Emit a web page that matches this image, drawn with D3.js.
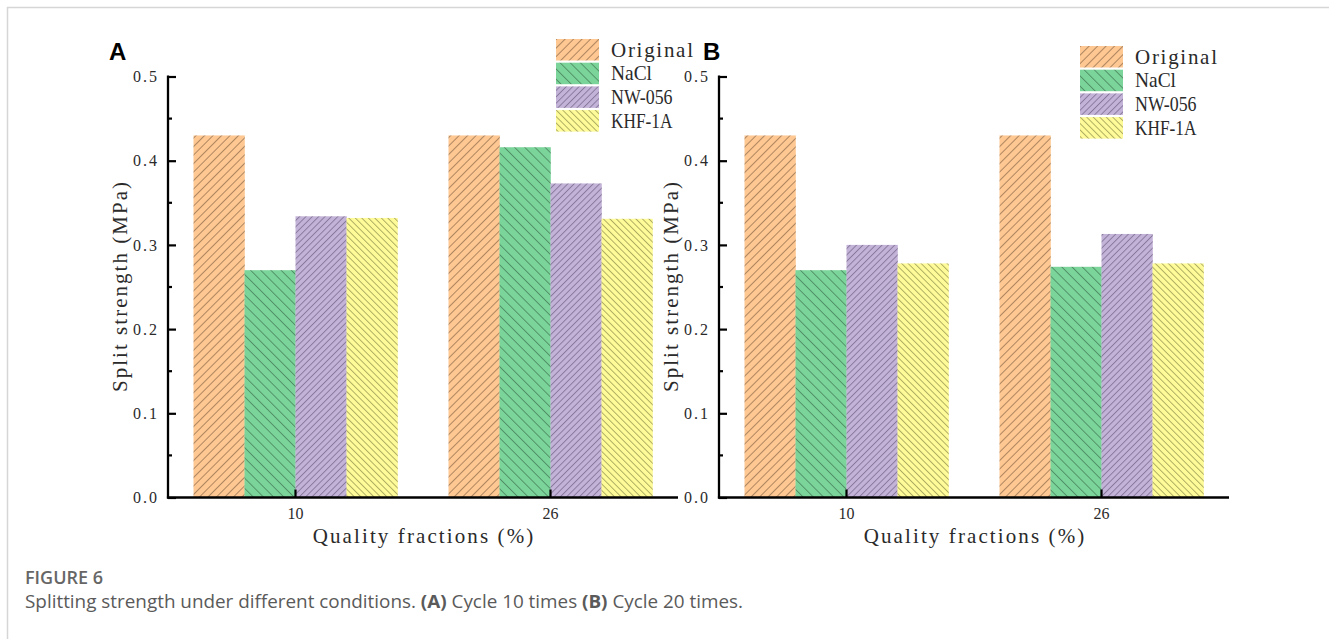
<!DOCTYPE html>
<html>
<head>
<meta charset="utf-8">
<script src="https://cdn.jsdelivr.net/npm/d3@7"></script>
<style>
  html, body { margin: 0; padding: 0; background: #fff; }
  svg { display: block; }
</style>
</head>
<body>
<svg id="fig" width="1329" height="639"></svg>
<script>
// Mass fractions on the x axis and the four treatments
const categories = ["10", "26"];
const series = ["Original", "NaCl", "NW-056", "KHF-1A"];

// (A) after 10 cycles — splitting strength, MPa
const originalA = [0.430, 0.430];
const naclA     = [0.270, 0.416];
const nw056A    = [0.334, 0.373];
const khfA      = [0.332, 0.331];

// (B) after 20 cycles — splitting strength, MPa
const originalB = [0.430, 0.430];
const naclB     = [0.270, 0.274];
const nw056B    = [0.300, 0.313];
const khfB      = [0.278, 0.278];

const yTicks = [0, 0.1, 0.2, 0.3, 0.4, 0.5];
const yMinorTicks = [0.05, 0.15, 0.25, 0.35, 0.45];

const colors = ["#FFC792", "#7BD59B", "#C4B3D8", "#FEFB98"];

const svg = d3.select("#fig");
const defs = svg.append("defs");

// hatch fills: direction and spacing per treatment
const hatchSpec = [
  { angle: 45,  gap: 6.0, stroke: "rgba(70,50,30,0.55)" },
  { angle: -45, gap: 7.2, stroke: "rgba(30,60,40,0.55)" },
  { angle: 45,  gap: 4.5, stroke: "rgba(50,40,70,0.5)" },
  { angle: -45, gap: 4.6, stroke: "rgba(60,60,20,0.5)" }
];
hatchSpec.forEach((h, i) => {
  const p = defs.append("pattern")
    .attr("id", "hatch" + i)
    .attr("patternUnits", "userSpaceOnUse")
    .attr("width", h.gap).attr("height", h.gap)
    .attr("patternTransform", `rotate(${h.angle})`);
  p.append("rect").attr("width", h.gap).attr("height", h.gap).attr("fill", colors[i]);
  p.append("line").attr("x1", 0.5).attr("y1", 0).attr("x2", 0.5).attr("y2", h.gap)
    .attr("stroke", h.stroke).attr("stroke-width", 0.8);
});

// light frame
svg.append("line").attr("x1", 7).attr("y1", 7.5).attr("x2", 1329).attr("y2", 7.5)
  .attr("stroke", "#d6d6d6").attr("stroke-width", 1.5);
svg.append("line").attr("x1", 7.5).attr("y1", 7).attr("x2", 7.5).attr("y2", 639)
  .attr("stroke", "#d6d6d6").attr("stroke-width", 1.5);

const chartFont = "'Liberation Serif', 'DejaVu Serif', serif";

// half-em fixed advance per character
function monoSpace(sel, size) {
  sel.each(function () {
    const n = this.textContent.length;
    const target = n * size * 0.5;
    const natural = this.getComputedTextLength();
    this.setAttribute("textLength", target.toFixed(2));
    this.setAttribute("lengthAdjust", natural > target ? "spacingAndGlyphs" : "spacing");
  });
}

const y = d3.scaleLinear().domain([0, 0.5]).range([497.5, 76.5]);

function drawPanel(left, label, labelX, seriesValues, legendPos) {
  const right = left + 510;
  const g = svg.append("g");

  const x0 = d3.scaleBand().domain(categories).range([left, right])
    .paddingInner(0.2).paddingOuter(0.1);
  const x1 = d3.scaleBand().domain(series).range([0, x0.bandwidth()]);

  // bars
  categories.forEach((c, ci) => {
    series.forEach((s, si) => {
      const v = seriesValues[si][ci];
      g.append("rect")
        .attr("x", x0(c) + x1(s))
        .attr("y", y(v))
        .attr("width", x1.bandwidth() + 0.3)
        .attr("height", y(0) - y(v))
        .attr("fill", `url(#hatch${si})`);
    });
  });

  // y axis
  const yAxis = d3.axisLeft(y).tickValues(yTicks).tickFormat(d3.format(".1f"))
    .tickSizeInner(-8).tickSizeOuter(0).tickPadding(11);
  const ya = g.append("g").attr("transform", `translate(${left},0)`).call(yAxis);
  ya.select(".domain").remove();
  ya.selectAll(".tick line").attr("stroke", "#000").attr("stroke-width", 2.2);
  ya.selectAll(".tick text")
    .attr("font-family", chartFont).attr("font-size", 16).attr("fill", "#2a2a2a")
    .attr("dy", "0.33em")
    .call(monoSpace, 16);
  g.selectAll(".minor").data(yMinorTicks).join("line")
    .attr("x1", left).attr("x2", left + 4)
    .attr("y1", d => y(d)).attr("y2", d => y(d))
    .attr("stroke", "#000").attr("stroke-width", 2.2);
  g.append("line").attr("x1", left).attr("x2", left)
    .attr("y1", y(0.5) - 1.1).attr("y2", y(0) + 1.1)
    .attr("stroke", "#000").attr("stroke-width", 2.3);

  // x axis
  const xAxis = d3.axisBottom(x0).tickSizeInner(-8).tickSizeOuter(0).tickPadding(16);
  const xa = g.append("g").attr("transform", `translate(0,${y(0)})`).call(xAxis);
  xa.select(".domain").remove();
  xa.selectAll(".tick line").attr("stroke", "#000").attr("stroke-width", 2.2);
  xa.selectAll(".tick text")
    .attr("font-family", chartFont).attr("font-size", 16).attr("fill", "#2a2a2a")
    .attr("dy", "0.35em")
    .call(monoSpace, 16);
  g.append("line").attr("x1", left - 1.1).attr("x2", right)
    .attr("y1", y(0)).attr("y2", y(0))
    .attr("stroke", "#000").attr("stroke-width", 2.3);

  // axis titles
  g.append("text")
    .attr("x", (left + right) / 2).attr("y", 543)
    .attr("text-anchor", "middle")
    .attr("font-family", chartFont).attr("font-size", 21).attr("fill", "#2a2a2a")
    .text("Quality fractions (%)")
    .call(monoSpace, 21);
  g.append("text")
    .attr("transform", `translate(${left - 41},${(y(0) + y(0.5)) / 2}) rotate(-90)`)
    .attr("text-anchor", "middle")
    .attr("font-family", chartFont).attr("font-size", 21).attr("fill", "#2a2a2a")
    .text("Split strength (MPa)")
    .call(monoSpace, 21);

  // panel letter
  g.append("text")
    .attr("x", labelX).attr("y", 60)
    .attr("font-family", "'Liberation Sans', Arial, sans-serif")
    .attr("font-weight", "bold").attr("font-size", 24).attr("fill", "#000")
    .text(label);

  // legend
  const lg = g.append("g").attr("transform", `translate(${legendPos[0]},${legendPos[1]})`);
  series.forEach((s, si) => {
    lg.append("rect")
      .attr("x", 0).attr("y", si * 23.7)
      .attr("width", 43).attr("height", 21.5)
      .attr("fill", `url(#hatch${si})`);
    lg.append("text")
      .attr("x", 55).attr("y", si * 23.7 + 17.5)
      .attr("font-family", chartFont).attr("font-size", 21).attr("fill", "#2a2a2a")
      .text(s)
      .call(monoSpace, 20.5);
  });
}

drawPanel(168, "A", 109, [originalA, naclA, nw056A, khfA], [556, 39]);
drawPanel(719, "B", 703, [originalB, naclB, nw056B, khfB], [1080, 46]);

// caption
svg.append("text")
  .attr("x", 25).attr("y", 584)
  .attr("font-family", "'Open Sans', sans-serif")
  .attr("font-weight", 600).attr("font-size", 18).attr("fill", "#666")
  .attr("textLength", 78).attr("lengthAdjust", "spacingAndGlyphs")
  .text("FIGURE 6");
const cap = svg.append("text")
  .attr("x", 25).attr("y", 608)
  .attr("font-family", "'Open Sans', sans-serif")
  .attr("font-size", 17.5).attr("fill", "#5a5a5a")
  .attr("textLength", 718).attr("lengthAdjust", "spacingAndGlyphs");
cap.append("tspan").text("Splitting strength under different conditions. ");
cap.append("tspan").attr("font-weight", 700).text("(A)");
cap.append("tspan").text(" Cycle 10 times ");
cap.append("tspan").attr("font-weight", 700).text("(B)");
cap.append("tspan").text(" Cycle 20 times.");
</script>
</body>
</html>
